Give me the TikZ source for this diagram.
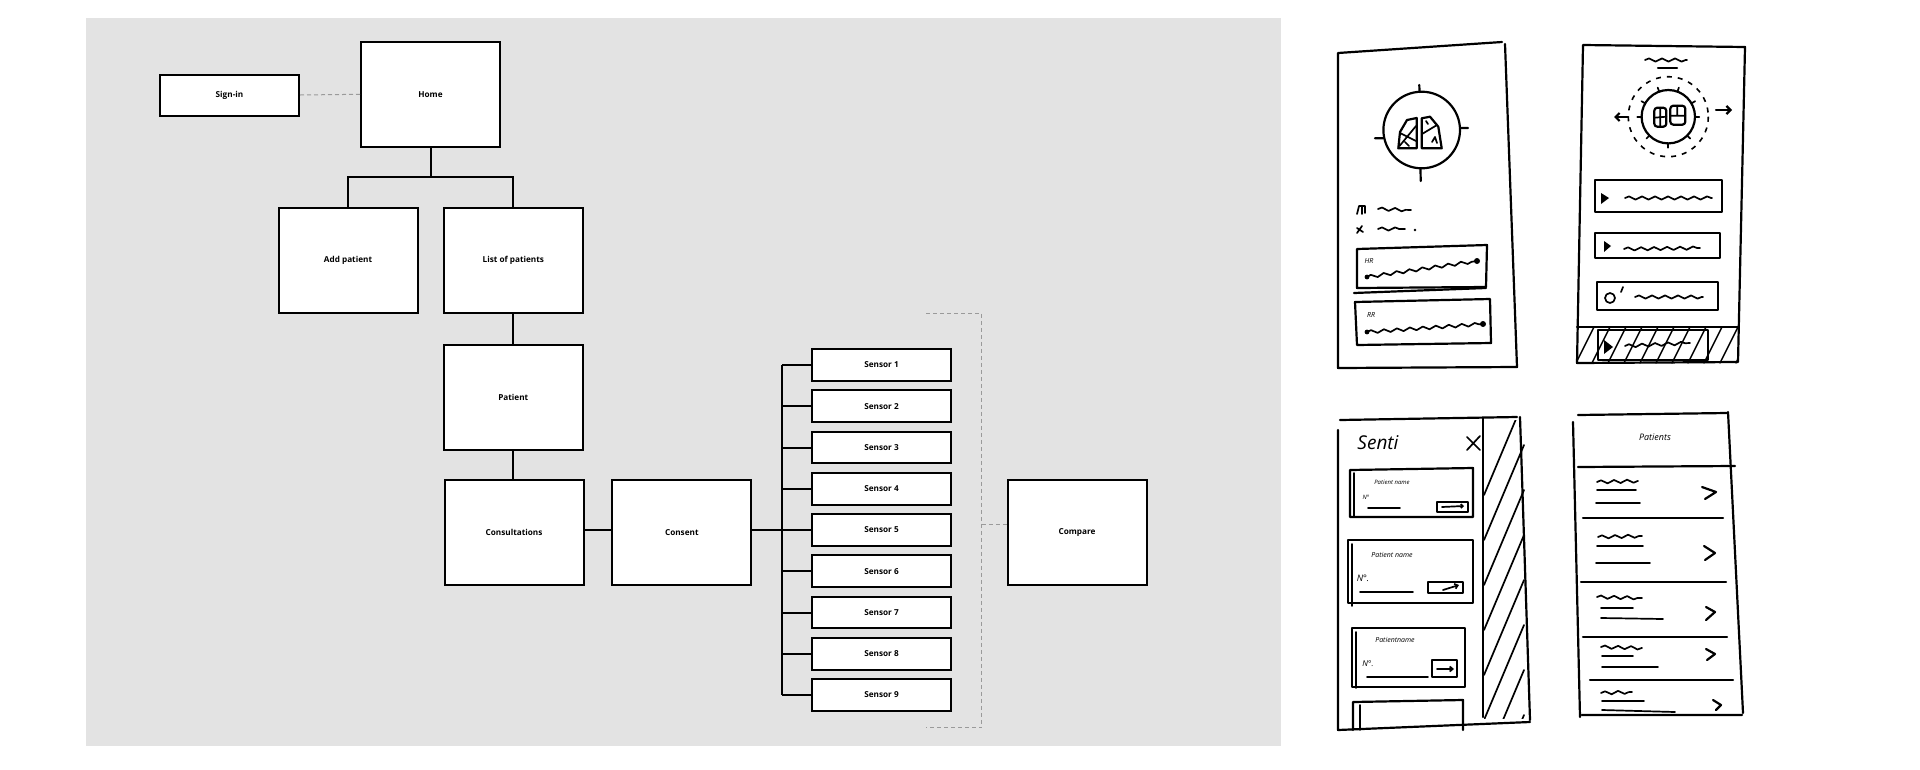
\documentclass[tikz,border=0pt]{standalone}
\usepackage{fontspec}
\setmainfont{Open Sans}
\usetikzlibrary{decorations.pathmorphing,arrows.meta}
\definecolor{panelgray}{HTML}{E3E3E3}
\definecolor{dashgray}{HTML}{9A9A9A}
\begin{document}
\begin{tikzpicture}[x=1pt,y=-1pt,
  box/.style={draw=black,line width=2pt,fill=white,inner sep=0pt,minimum width=139pt,minimum height=105pt,font=\fontsize{8.2}{10}\selectfont\bfseries},
  smallbox/.style={box,minimum height=41pt},
  sensorbox/.style={box,minimum height=31.7pt},
  conn/.style={line width=2pt,black},
  dashconn/.style={draw=dashgray,line width=1pt,dash pattern=on 4pt off 3pt},
  sk/.style={line width=2.2pt,line cap=round,line join=round},
  thin sk/.style={line width=1.7pt,line cap=round,line join=round},
  wave/.style={thin sk,decorate,decoration={snake,amplitude=1.6pt,segment length=13pt}},
  hand/.style={font=\fontsize{7}{8}\selectfont\itshape,inner sep=0pt}]
\useasboundingbox (0,0) rectangle (1920,769);
\fill[white] (0,0) rectangle (1920,769);
\fill[panelgray] (85.7,18.4) rectangle (1281,745.7);

% ---------- information architecture ----------
\node[box] (home) at (430.5,94.3) {Home};
\node[smallbox] (signin) at (229.5,95) {Sign-in};
\node[box] (addp) at (348,260.7) {Add patient};
\node[box] (list) at (513.3,260.7) {List of patients};
\node[box] (patient) at (513.3,397) {Patient};
\node[box] (consult) at (514,532.6) {Consultations};
\node[box] (consent) at (681.8,532.6) {Consent};
\node[box] (compare) at (1077,532.6) {Compare};
\foreach \k in {1,...,9}
  \node[sensorbox] (s\k) at (881.5,{365+(\k-1)*41.25}) {Sensor \k};

\draw[dashconn] (signin.east) -- (home.west);
\coordinate (hj) at (430.5,177);
\draw[conn] (home.south) -- (hj);
\draw[conn] (addp.north) -- (addp.north |- hj) -- (list.north |- hj) -- (list.north);
\draw[conn] (list.south) -- (patient.north);
\draw[conn] (patient.south) -- (patient.south |- consult.north);
\draw[conn] (consult.east |- s5.west) -- (consent.west |- s5.west);
\coordinate (trunk) at (782,530);
\draw[conn] (consent.east |- s5.west) -- (s5.west);
\draw[conn] (s1.west -| trunk) -- (s9.west -| trunk);
\foreach \k in {1,...,9} \draw[conn] (s\k.west) -- (s\k.west -| trunk);

\coordinate (bt) at (926,313.7);
\coordinate (bb) at (926,727.7);
\coordinate (bx) at (981.8,520);
\coordinate (cy) at (1000,524.7);
\draw[dashconn] (bt) -- (bt -| bx) -- (bb -| bx) -- (bb);
\draw[dashconn] (bx |- cy) -- (compare.west |- cy);

% ---------- sketch 1 ----------
\draw[sk] (1502,42) -- (1338,53) -- (1338,368) -- (1517,367) -- (1505,44);
\draw[sk] (1421.7,130) circle (38.3);
\draw[sk] (1419.3,85) -- (1419.5,92) (1420.5,168.5) -- (1420.7,181) (1375,138.3) -- (1383.3,138.3) (1460,128) -- (1468,128);
\draw[sk] (1416.7,148.3) -- (1398.3,148.3) -- (1400,132) -- (1407,120) -- (1416.7,118) -- cycle;
\draw[thin sk] (1399.5,146) -- (1416,126) (1400,133) -- (1416,141) (1405,142) -- (1409,146);
\draw[sk] (1421.7,148.3) -- (1421.7,118.3) -- (1430,116.7) -- (1438.3,126.7) -- (1441.7,148.3) -- cycle;
\draw[thin sk] (1422,134) -- (1437,125) (1426,121) -- (1428,124) (1432,142) -- (1435,137) -- (1437,143);
\draw[thin sk] (1357,214) -- (1359,206) -- (1362,206) -- (1362,214) (1362,206) -- (1365,206) -- (1365,213);
\draw[wave] (1378,209) -- (1411,210);
\draw[thin sk] (1357,233) -- (1362,226) (1357,228) -- (1363,232);
\draw[wave] (1378,229) -- (1405,229);
\fill (1415,230) circle (1.3);
\draw[sk] (1357,249) -- (1487,245) -- (1486,287) -- (1357,288) -- cycle;
\draw[sk] (1354,293) -- (1486,288);
\node[hand] at (1369,261) {HR};
\draw[wave] (1367,277) -- (1477,261);
\fill (1367,277) circle (2.4) (1477,261) circle (3);
\draw[sk] (1355,302) -- (1490,299) -- (1491,343) -- (1357,345) -- cycle;
\node[hand] at (1371,315) {RR};
\draw[wave] (1367,332) -- (1483,324);
\fill (1367,332) circle (2.4) (1483,324) circle (3);

% ---------- sketch 2 ----------
\draw[sk] (1745,47) -- (1583,45) -- (1577,363) -- (1738,362) -- cycle;
\draw[wave] (1645,60) -- (1687,60);
\draw[sk] (1658,68) -- (1677,68);
\begin{scope}[shift={(1668.3,116.7)}]
  \draw[sk] (0,0) circle (26.7);
  \foreach \a in {90,45,135,180,0,-30,-70,-110,-150} \draw[thin sk] (\a:26.7) -- (\a:31);
  \draw[line width=1.6pt,dash pattern=on 5pt off 6pt] (0,0) circle (40);
  \draw[sk,rounded corners=3pt] (-14,-9) rectangle (-2,10);
  \draw[sk,rounded corners=3pt] (2,-11) rectangle (17,8);
  \draw[thin sk] (-14,1) -- (-2,0) (-8,-9) -- (-8,10) (2,-1) -- (17,-1) (9,-11) -- (9,-1);
\end{scope}
\draw[sk,-{Straight Barb[length=4pt,width=8pt]}] (1628,117) -- (1614,117);
\draw[sk,-{Straight Barb[length=4pt,width=8pt]}] (1716,110) -- (1732,110);
\draw[sk] (1595,180) rectangle (1722,212);
\fill (1601,193) -- (1609,198) -- (1601,204) -- cycle;
\draw[wave] (1625,198) -- (1712,198);
\draw[sk] (1595,233) rectangle (1720,258);
\fill (1604,241) -- (1611,246) -- (1604,252) -- cycle;
\draw[wave] (1624,249) -- (1700,248);
\draw[sk] (1597,282) rectangle (1718,310);
\draw[thin sk] (1610,298) circle (5);
\draw[thin sk] (1621,292) -- (1623,287);
\draw[wave] (1635,297) -- (1703,297);
\begin{scope}
  \clip (1577,327) rectangle (1738,363);
  \foreach \x in {1560,1576,...,1760} \draw[thin sk,line width=1.4pt] (\x,363) -- ({\x+18},327);
\end{scope}
\draw[sk] (1577,327) -- (1738,327);
\draw[sk] (1598,330) rectangle (1708,360);
\fill (1604,340) -- (1613,347) -- (1604,354) -- cycle;
\draw[wave] (1625,346) -- (1690,343);

% ---------- sketch 3 ----------
\draw[sk] (1340,420) -- (1517,417) (1520,417) -- (1530,720) (1338,430) -- (1338,730) -- (1530,722);
\draw[sk] (1483,418) -- (1483,717);
\begin{scope}
  \clip (1484,420) rectangle (1527,718);
  \foreach \y in {400,445,...,720} \draw[thin sk] (1484,{\y+95}) -- (1524,\y);
\end{scope}
\node[font=\fontsize{19}{20}\selectfont\itshape,inner sep=0pt] at (1378,443) {Senti};
\draw[thin sk] (1467,437) -- (1480,450) (1467,450) -- (1480,436);
% card 1
\draw[sk] (1350,470) -- (1473,468) -- (1473,517) -- (1350,517) -- cycle;
\draw[thin sk] (1354,473) -- (1354,516);
\node[hand,font=\fontsize{6}{7}\selectfont\itshape] at (1392,482) {Patient name};
\node[hand,font=\fontsize{6}{7}\selectfont\itshape] at (1366,497) {N°};
\draw[thin sk] (1368,508) -- (1400,508);
\draw[thin sk] (1437,502) rectangle (1468,512);
\draw[thin sk,-{Straight Barb[length=2pt,width=4pt]}] (1442,507) -- (1464,506);
% card 2
\draw[sk] (1348,540) rectangle (1473,603);
\draw[thin sk] (1352,544) -- (1352,606);
\node[hand] at (1392,555) {Patient name};
\node[hand,font=\fontsize{9}{10}\selectfont\itshape] at (1363,578) {N°.};
\draw[thin sk] (1360,592) -- (1413,592);
\draw[thin sk] (1428,582) rectangle (1463,593);
\draw[thin sk,-{Straight Barb[length=3pt,width=5pt]}] (1443,590) -- (1459,585);
% card 3
\draw[sk] (1352,628) rectangle (1465,687);
\draw[thin sk] (1356,632) -- (1356,688);
\node[hand] at (1395,640) {Patientname};
\node[hand,font=\fontsize{8}{9}\selectfont\itshape] at (1368,664) {N°.};
\draw[thin sk] (1367,677) -- (1428,677);
\draw[sk] (1432,660) rectangle (1457,677);
\draw[thin sk,-{Straight Barb[length=3pt,width=5pt]}] (1437,669) -- (1454,669);
% card 4 (partial)
\draw[sk] (1353,730) -- (1353,702) -- (1463,700) -- (1463,730);
\draw[thin sk] (1360,705) -- (1360,730);

% ---------- sketch 4 ----------
\draw[sk] (1578,415) -- (1727,413) (1728,412) -- (1743,713) (1573,422) -- (1580,717) (1582,715) -- (1742,715);
\node[hand,font=\fontsize{9}{10}\selectfont\itshape] at (1655,437) {Patients};
\draw[sk] (1578,467) -- (1735,466);
\draw[sk] (1583,518) -- (1723,518);
\draw[sk] (1581,582) -- (1726,582);
\draw[sk] (1583,637) -- (1727,637);
\draw[sk] (1590,680) -- (1733,680);
\draw[wave] (1597,482) -- (1638,481);
\draw[thin sk] (1597,490) -- (1636,490) (1596,503) -- (1640,503);
\draw[sk] (1702,487) -- (1716,492) -- (1705,499);
\draw[wave] (1598,537) -- (1642,536);
\draw[thin sk] (1597,546) -- (1643,546) (1596,563) -- (1650,563);
\draw[sk] (1704,546) -- (1715,553) -- (1705,560);
\draw[wave] (1597,597) -- (1642,598);
\draw[thin sk] (1601,608) -- (1633,608) (1601,618) -- (1663,619);
\draw[sk] (1706,607) -- (1715,612) -- (1706,620);
\draw[wave] (1601,647) -- (1642,648);
\draw[thin sk] (1602,656) -- (1633,656) (1602,667) -- (1658,667);
\draw[sk] (1706,649) -- (1715,654) -- (1707,660);
\draw[wave] (1601,693) -- (1632,692);
\draw[thin sk] (1602,701) -- (1644,701) (1602,710) -- (1675,712);
\draw[sk] (1713,700) -- (1721,705) -- (1716,710);
\end{tikzpicture}
\end{document}
